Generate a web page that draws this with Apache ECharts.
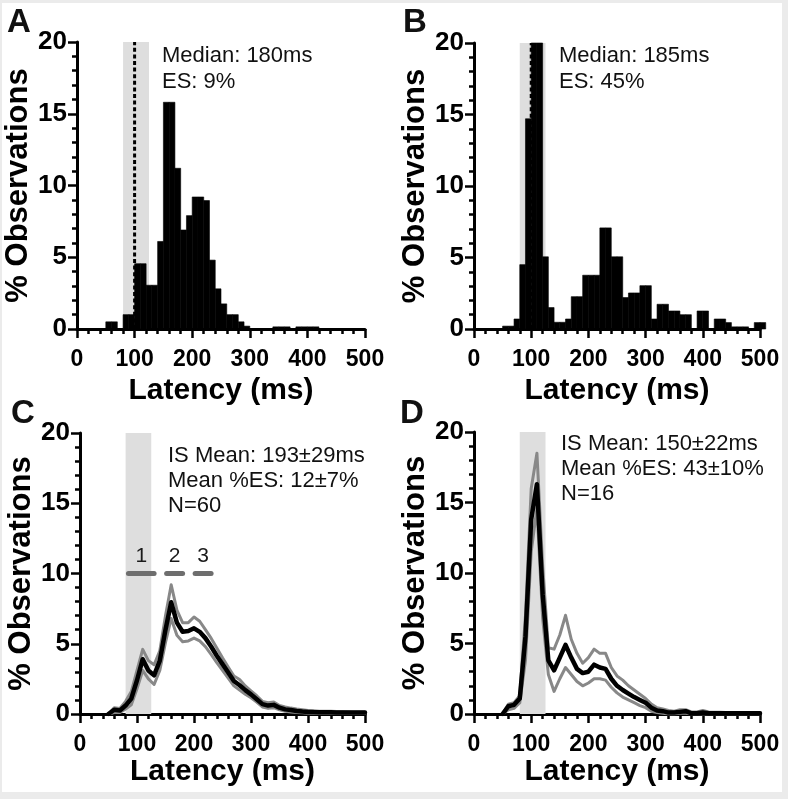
<!DOCTYPE html>
<html><head><meta charset="utf-8">
<script src="https://cdn.jsdelivr.net/npm/echarts@6/dist/echarts.min.js"></script>
<style>html,body{margin:0;padding:0;background:#ebebeb}#c{width:788px;height:799px}</style>
</head><body><div id="c"></div>
<script>
// ---------- DATA ----------
const xTicks = [0, 100, 200, 300, 400, 500];
const yTicks = [0, 5, 10, 15, 20];
const binWidth = 10;
const shadeRange = [80, 125];
const dashedAt = 100;

// Panel A histogram (bin start ms, % observations)
const binStartsA = [50,60,70,80,90,100,110,120,130,140,150,160,170,180,190,200,210,220,230,240,250,260,270,280,290,300,310,320,330,340,350,360,370,380,390,400,410];
const valuesA = [0.5,0.5,0,1.0,1.0,4.55,4.55,3.05,3.05,6.1,15.8,15.8,11.2,6.9,7.9,9.2,9.2,8.95,4.8,2.8,1.75,1.0,1.0,0.5,0.2,0,0,0,0,0.15,0.15,0.15,0,0.15,0.15,0.15,0.15];

// Panel B histogram
const binStartsB = [50,60,70,80,90,100,110,120,130,140,150,160,170,180,190,200,210,220,230,240,250,260,270,280,290,300,310,320,330,340,350,360,370,380,390,400,410,420,430,440,450,460,470,480,490,500];
const valuesB = [0.2,0.2,0.7,4.5,14.7,20,20,5.05,1.5,0.47,0.47,0.7,2.26,2.26,3.76,3.76,3.76,7.07,7.07,5.05,5.05,2.2,2.52,2.52,3.03,3.03,0.7,1.73,1.73,1.26,1.26,1.0,1.0,0,1.26,1.26,0,0.7,0.7,0.45,0.15,0.15,0.15,0,0.45,0.45];

// Panels C and D: latency sample points
const latency = [50,60,70,80,90,100,110,120,130,140,150,160,170,180,190,200,210,220,230,240,250,260,270,280,290,300,310,320,330,340,350,360,370,380,390,400,410,420,430,440,450,460,470,480,490,500];

const meanC  = [0,0.3,0.25,0.6,1.1, 2.4,3.9,3.1,2.75,3.8, 6.0,7.95,6.5,5.85,5.9, 6.1,5.85,5.4,4.8,4.15, 3.55,2.95,2.35,2.05,1.7, 1.4,1.05,0.7,0.6,0.65, 0.45,0.33,0.28,0.22,0.18, 0.15,0.14,0.13,0.12,0.12, 0.11,0.1,0.1,0.1,0.1, 0.1];
const upperC = [0,0.45,0.4,0.9,1.6, 3.1,4.6,3.8,3.5,4.5, 7.0,9.2,7.4,6.5,6.5, 6.9,6.6,6.0,5.4,4.7, 4.0,3.35,2.7,2.45,2.0, 1.65,1.3,0.9,0.8,0.85, 0.6,0.5,0.42,0.35,0.3, 0.25,0.22,0.2,0.2,0.2, 0.18,0.17,0.16,0.15,0.15, 0.15];
const lowerC = [0,0.1,0.1,0.35,0.65, 1.8,3.1,2.5,2.1,3.1, 5.1,6.8,5.6,5.15,5.2, 5.4,5.2,4.8,4.25,3.65, 3.1,2.55,2.0,1.7,1.4, 1.15,0.85,0.5,0.4,0.45, 0.3,0.2,0.15,0.1,0.08, 0.06,0.06,0.06,0.05,0.05, 0.05,0.05,0.05,0.05,0.05, 0.05];

const meanD  = [0,0.55,0.65,1.1,5.5, 13.8,16.3,8.5,3.8,3.1, 4.0,4.9,4.0,3.2,2.9, 3.0,3.5,3.3,3.2,2.5, 2.0,1.7,1.45,1.2,1.0, 0.8,0.45,0.25,0.2,0.1, 0.1,0.15,0.2,0.05,0.05, 0.1,0.05,0.05,0.05,0.05, 0.05,0.05,0.05,0.05,0.05, 0.05];
const upperD = [0,0.7,0.8,1.3,7.0, 16.0,18.5,10.5,4.7,4.6, 5.6,7.0,5.3,4.3,3.6, 4.0,4.6,4.3,4.3,3.3, 2.7,2.4,2.0,1.7,1.4, 1.1,0.7,0.45,0.35,0.25, 0.2,0.3,0.3,0.15,0.15, 0.25,0.15,0.12,0.12,0.1, 0.1,0.1,0.1,0.1,0.1, 0.1];
const lowerD = [0,0.3,0.4,0.8,3.8, 11.5,14.6,6.8,2.8,1.6, 2.5,3.3,2.8,2.3,2.0, 2.2,2.5,2.5,2.4,1.9, 1.5,1.2,1.0,0.8,0.6, 0.45,0.2,0.1,0.05,0, 0,0.05,0.05,0,0, 0,0,0,0,0, 0,0,0,0,0, 0];

// Epoch bars in panel C
const segStarts = [85, 152, 202];
const segEnds = [130, 180, 230];
const segLevel = 10;
const segLabels = ['1', '2', '3'];

// Texts
const panelLetters = ['A', 'B', 'C', 'D'];
const annotA = 'Median: 180ms\nES: 9%';
const annotB = 'Median: 185ms\nES: 45%';
const annotC = 'IS Mean: 193\u00b129ms\nMean %ES: 12\u00b17%\nN=60';
const annotD = 'IS Mean: 150\u00b122ms\nMean %ES: 43\u00b110%\nN=16';
const xTitle = 'Latency (ms)';
const yTitle = '% Observations';

// ---------- CHART ----------
const FONT = "'Liberation Sans', Arial, Helvetica, sans-serif";
const chart = echarts.init(document.getElementById('c'), null, {renderer: 'canvas'});

const grids = [
  {left: 77, top: 42, width: 288, height: 287},
  {left: 474, top: 43, width: 286, height: 286},
  {left: 80, top: 433, width: 285, height: 281},
  {left: 474, top: 432, width: 286, height: 282}
];
const xNameGaps = [47, 47, 40, 40];
const yNameGaps = [36, 36, 38, 38];

function xAxisCfg(i) {
  return {
    gridIndex: i, type: 'value', min: xTicks[0], max: xTicks[xTicks.length - 1],
    interval: xTicks[1] - xTicks[0],
    name: xTitle, nameLocation: 'middle', nameGap: xNameGaps[i],
    nameTextStyle: {fontFamily: FONT, fontWeight: 'bold', fontSize: 30, color: '#000'},
    axisLine: {show: true, onZero: false, lineStyle: {color: '#000', width: 3}},
    axisTick: {show: true, length: 9, lineStyle: {color: '#000', width: 2.5}},
    minorTick: {show: true, splitNumber: 5, length: 5, lineStyle: {color: '#000', width: 2.5}},
    splitLine: {show: false}, minorSplitLine: {show: false},
    axisLabel: {fontFamily: FONT, fontWeight: 'bold', fontSize: 23, color: '#000', margin: 19}
  };
}
function yAxisCfg(i) {
  return {
    gridIndex: i, type: 'value', min: yTicks[0], max: yTicks[yTicks.length - 1],
    interval: yTicks[1] - yTicks[0],
    name: yTitle, nameLocation: 'middle', nameGap: yNameGaps[i], nameRotate: 90,
    nameTextStyle: {fontFamily: FONT, fontWeight: 'bold', fontSize: 31, color: '#000'},
    axisLine: {show: true, onZero: false, lineStyle: {color: '#000', width: 3}},
    axisTick: {show: true, length: 9, lineStyle: {color: '#000', width: 2.5}},
    minorTick: {show: true, splitNumber: 5, length: 5, lineStyle: {color: '#000', width: 2.5}},
    splitLine: {show: false}, minorSplitLine: {show: false},
    axisLabel: {fontFamily: FONT, fontWeight: 'bold', fontSize: 26, color: '#000', margin: 10}
  };
}

function shadeSeries(i) {
  return {
    type: 'custom', xAxisIndex: i, yAxisIndex: i, z: 1, silent: true, clip: false,
    data: [[shadeRange[0], shadeRange[1], yTicks[yTicks.length - 1]]],
    renderItem: function (params, api) {
      const p0 = api.coord([api.value(0), api.value(2)]);
      const p1 = api.coord([api.value(1), 0]);
      return {type: 'rect', shape: {x: p0[0], y: p0[1], width: p1[0] - p0[0], height: p1[1] - p0[1]},
        style: {fill: '#dedede'}};
    }
  };
}
function histSeries(i, starts, vals) {
  return {
    type: 'custom', xAxisIndex: i, yAxisIndex: i, z: 3, silent: true, clip: false,
    data: starts.map((s, k) => [s, vals[k]]),
    renderItem: function (params, api) {
      const s = api.value(0), v = api.value(1);
      if (!v) return null;
      const p0 = api.coord([s, 0]);
      const p1 = api.coord([s + binWidth, v]);
      return {type: 'rect', shape: {x: p0[0], y: p1[1], width: p1[0] - p0[0], height: p0[1] - p1[1]},
        style: {fill: '#000', stroke: '#000', lineWidth: 0.6}};
    }
  };
}
function dashedSeries(i) {
  return {
    type: 'line', xAxisIndex: i, yAxisIndex: i, z: 5, silent: true, symbol: 'none',
    data: [[dashedAt, 0], [dashedAt, yTicks[yTicks.length - 1]]],
    lineStyle: {color: '#000', width: 3, type: [4, 2.6]}
  };
}
function lineSeries(i, vals, color, width, z) {
  return {
    type: 'line', xAxisIndex: i, yAxisIndex: i, z: z, silent: true, symbol: 'none',
    data: latency.map((x, k) => [x, vals[k]]),
    lineStyle: {color: color, width: width, cap: 'round', join: 'round'}
  };
}
const segSeries = {
  type: 'custom', xAxisIndex: 2, yAxisIndex: 2, z: 6, silent: true, clip: false,
  data: segStarts.map((s, k) => [s, segEnds[k], segLevel]),
  renderItem: function (params, api) {
    const a = api.coord([api.value(0), api.value(2)]);
    const b = api.coord([api.value(1), api.value(2)]);
    return {type: 'group', children: [
      {type: 'line', shape: {x1: a[0], y1: a[1], x2: b[0], y2: b[1]},
        style: {stroke: '#6e6e6e', lineWidth: 5, lineCap: 'round'}},
      {type: 'text', x: (a[0] + b[0]) / 2, y: a[1] - 7,
        style: {text: segLabels[params.dataIndex], fontSize: 21, fontFamily: FONT, fill: '#1a1a1a',
          align: 'center', verticalAlign: 'bottom'}}
    ]};
  }
};

function txt(x, y, text, size, weight, lh) {
  return {type: 'text', x: x, y: y, z: 10,
    style: {text: text, fontFamily: FONT, fontSize: size, fontWeight: weight, fill: '#111',
      lineHeight: lh, align: 'left', verticalAlign: 'top'}};
}

const option = {
  backgroundColor: '#ebebeb',
  animation: false,
  grid: grids.map(g => Object.assign({containLabel: false}, g)),
  xAxis: [0, 1, 2, 3].map(xAxisCfg),
  yAxis: [0, 1, 2, 3].map(yAxisCfg),
  graphic: [
    {type: 'rect', left: 2, top: 3, z: -100, shape: {width: 780, height: 789}, style: {fill: '#fff'}},
    txt(7, 6, panelLetters[0], 33, 'bold', 33),
    txt(403, 6, panelLetters[1], 33, 'bold', 33),
    txt(11, 397, panelLetters[2], 33, 'bold', 33),
    txt(400, 397, panelLetters[3], 33, 'bold', 33),
    txt(162, 43, annotA, 22, 'normal', 26),
    txt(559, 43, annotB, 22, 'normal', 26),
    txt(168, 443, annotC, 22, 'normal', 25),
    txt(561, 431, annotD, 22, 'normal', 25)
  ],
  series: [
    shadeSeries(0), histSeries(0, binStartsA, valuesA), dashedSeries(0),
    shadeSeries(1), histSeries(1, binStartsB, valuesB), dashedSeries(1),
    shadeSeries(2),
    lineSeries(2, upperC, '#888', 3, 3), lineSeries(2, lowerC, '#888', 3, 3), lineSeries(2, meanC, '#000', 4.5, 4),
    segSeries,
    shadeSeries(3),
    lineSeries(3, upperD, '#888', 3, 3), lineSeries(3, lowerD, '#888', 3, 3), lineSeries(3, meanD, '#000', 4.5, 4)
  ]
};
chart.setOption(option);
</script></body></html>
